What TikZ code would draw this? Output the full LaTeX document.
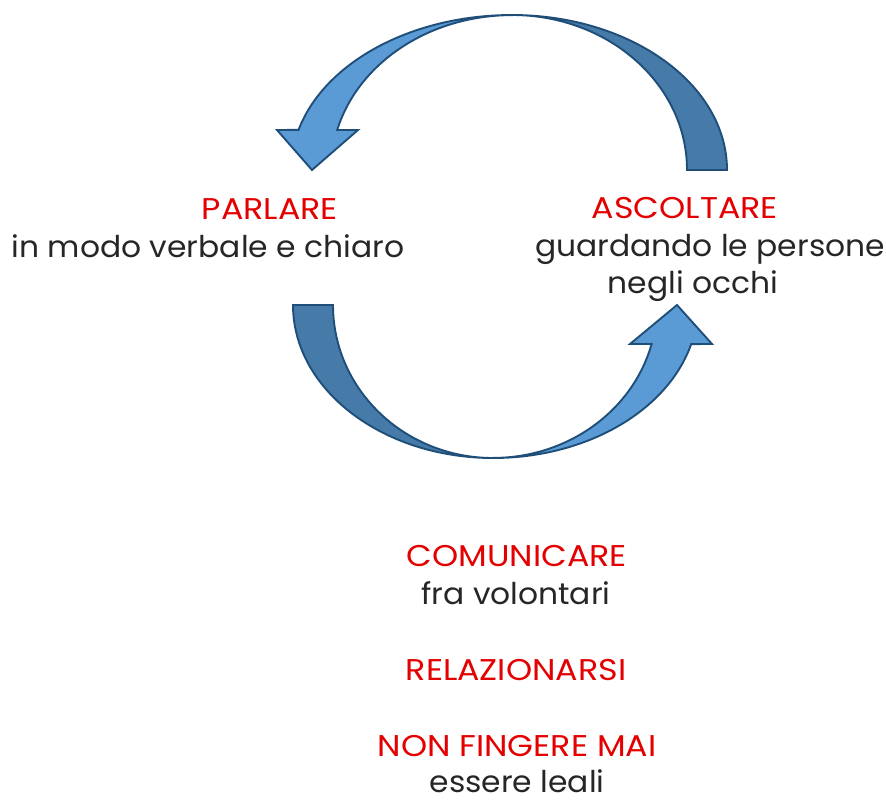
\documentclass[tikz,border=0pt]{standalone}
\usepackage{fontspec}
\setmainfont{Poppins}
\newfontfamily\titlefont[FakeStretch=1.11]{Poppins}
\newfontfamily\bodyfont[FakeStretch=1.045]{Poppins}
\definecolor{txtred}{RGB}{228,0,0}
\definecolor{txtgray}{RGB}{38,38,38}
\definecolor{lightblue}{RGB}{91,155,213}
\definecolor{darkblue}{RGB}{70,122,168}
\definecolor{edgeblue}{RGB}{31,78,121}
\begin{document}
\begin{tikzpicture}[x=1pt,y=-1pt,
  txt/.style={inner sep=0pt,anchor=base},
  title/.style={txt,text=txtred,font=\titlefont\fontsize{30}{36}\selectfont},
  body/.style={txt,text=txtgray,font=\bodyfont\fontsize{30}{36}\selectfont},
  backband/.style={fill=darkblue,draw=edgeblue,line width=1.9pt,line join=miter},
  frontband/.style={fill=lightblue,draw=edgeblue,line width=1.9pt,line join=miter}]
\path[use as bounding box] (0,0) rectangle (886,801);

% top curved arrow (right to left)
\draw[backband] (727,170) arc[start angle=0,end angle=-90,x radius=215,y radius=155]
   arc[start angle=-90,end angle=0,x radius=175,y radius=155] -- cycle;
\draw[frontband] (512,15) arc[start angle=-90,end angle=-165,x radius=221,y radius=155]
   -- (277,130) -- (312,170) -- (358,130) -- (337.2,130)
   arc[start angle=-165,end angle=-90,x radius=181,y radius=155] -- cycle;

% bottom curved arrow (left to right)
\draw[backband] (293,305) arc[start angle=180,end angle=90,x radius=200,y radius=153]
   arc[start angle=90,end angle=180,x radius=160,y radius=153] -- cycle;
\draw[frontband] (493,458) arc[start angle=90,end angle=14.8,x radius=205,y radius=153]
   -- (712,344) -- (677,305) -- (630,344) -- (651.6,344)
   arc[start angle=14.8,end angle=90,x radius=164,y radius=153] -- cycle;

% texts
\node[title] (parlare) at (270,219) {PARLARE};
\node[body] (parlare2) at (208,257) {in modo verbale e chiaro};
\node[title] (ascoltare) at (685,218) {ASCOLTARE};
\node[body] (ascoltare2) at (710,256) {guardando le persone};
\node[body] (ascoltare3) at (693,293) {negli occhi};
\node[title] (comunicare) at (517,566) {COMUNICARE};
\node[body] (comunicare2) at (516,604) {fra volontari};
\node[title] (relazionarsi) at (516,680) {RELAZIONARSI};
\node[title] (fingere) at (517,756) {NON FINGERE MAI};
\node[body] (leali) at (517,792) {essere leali};
\end{tikzpicture}
\end{document}
